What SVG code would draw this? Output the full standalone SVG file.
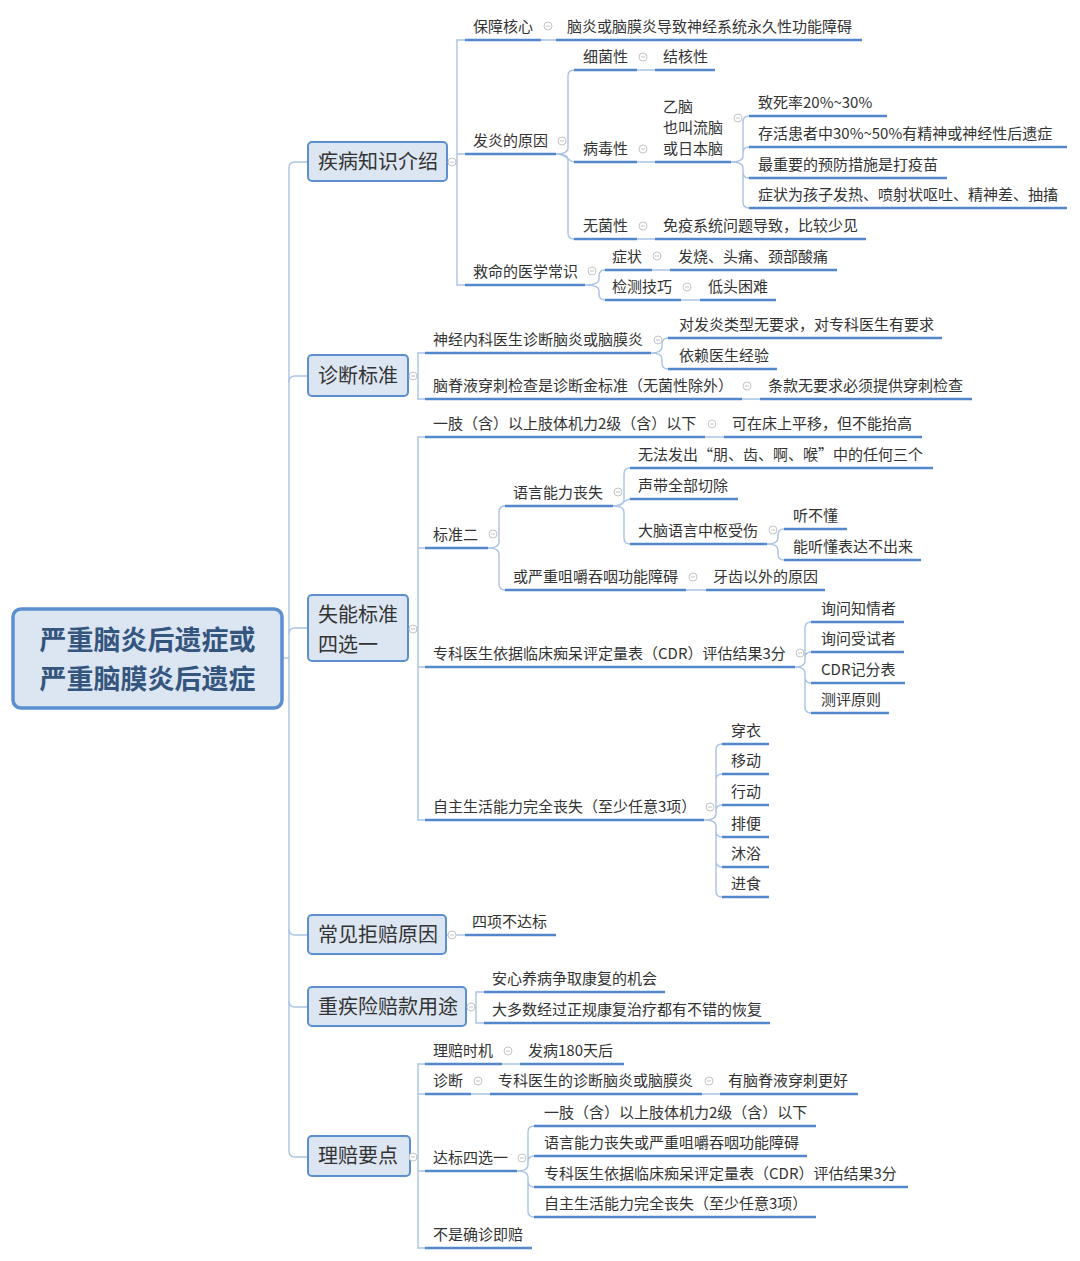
<svg xmlns="http://www.w3.org/2000/svg" xmlns:xlink="http://www.w3.org/1999/xlink" width="1080" height="1261" viewBox="0 0 1080 1261">
<style>
.t{font-family:"Noto Sans CJK SC","Microsoft YaHei",sans-serif;font-size:15px;fill:#333}
.m{font-family:"Noto Sans CJK SC","Microsoft YaHei",sans-serif;font-size:20px;fill:#333}
.r{font-family:"Noto Sans CJK SC","Microsoft YaHei",sans-serif;font-size:27px;font-weight:bold;fill:#34557e}
.u{stroke:#5387cc;stroke-width:2.5;fill:none}
.c{stroke:#a9c3e6;stroke-width:1.4;fill:none}
.box{fill:#dce6f2;stroke:#5b8fd0;stroke-width:2}
.root{fill:#dce6f2;stroke:#5b8fd0;stroke-width:3.5}
.b circle{fill:#fff;stroke:#c4c4c4;stroke-width:1}
.b line{stroke:#c4c4c4;stroke-width:1}
</style>
<defs>
<g id="btn" class="b"><circle cx="0" cy="0" r="4"/><line x1="-2" y1="0" x2="2" y2="0"/></g>
</defs>
<rect width="1080" height="1261" fill="#fff"/>

<g id="connectors">
<path class="c" d="M282,658 H289"/>
<path class="c" d="M308,162 H295 Q289,162 289,168 V1151 Q289,1157 295,1157 H308"/>
<path class="c" d="M289,382 Q289,376 295,376 H308"/>
<path class="c" d="M289,634 Q289,628 295,628 H308"/>
<path class="c" d="M289,929 Q289,935 295,935 H308"/>
<path class="c" d="M289,1001 Q289,1007 295,1007 H308"/>
<path class="c" d="M447,162 H457 M465,40 H457 V285 H465 M457,154 H465"/>
<path class="c" d="M408,376 H418 M425,353 H418 V399 H425"/>
<path class="c" d="M408,628 H418 M425,437 H418 V820 H425 M418,548 H425 M418,667 H425"/>
<path class="c" d="M446,935 H465"/>
<path class="c" d="M466,1007 H476 M484,992 H476 V1023 H484"/>
<path class="c" d="M410,1157 H418 M425,1064 H418 V1248 H425 M418,1094 H425 M418,1171 H425"/>
<path class="c" d="M541,40 H556 M637,70 H655 M637,162 H655 M637,239 H655 M652,270 H670 M681,300 H700 M742,399 H760 M705,437 H724 M686,590 H706 M502,1064 H520 M471,1094 H490 M702,1094 H720"/>
<path class="c" d="M556,154 Q568,154 568,148 V76 Q568,70 574,70 M556,154 C568,154 568,162 574,162 M556,154 Q568,154 568,160 V233 Q568,239 574,239"/>
<path class="c" d="M731,162 Q743,162 743,156 V122 Q743,116 749,116 M731,162 Q743,162 743,156 V153 Q743,147 749,147 M731,162 Q743,162 743,168 V172 Q743,178 749,178 M731,162 Q743,162 743,168 V202 Q743,208 749,208"/>
<path class="c" d="M585,285 Q599,285 599,279 V276 Q599,270 605,270 M585,285 Q599,285 599,291 V294 Q599,300 605,300"/>
<path class="c" d="M651,353 Q662,353 662,347 V344 Q662,338 668,338 M651,353 Q662,353 662,359 V363 Q662,369 668,369"/>
<path class="c" d="M488,548 Q499,548 499,542 V512 Q499,506 505,506 M488,548 Q499,548 499,554 V584 Q499,590 505,590"/>
<path class="c" d="M613,506 Q624,506 624,500 V474 Q624,468 630,468 M613,506 C624,506 624,499 630,499 M613,506 Q624,506 624,512 V538 Q624,544 630,544"/>
<path class="c" d="M767,544 Q778,544 778,538 V535 Q778,529 784,529 M767,544 Q778,544 778,550 V554 Q778,560 784,560"/>
<path class="c" d="M795,667 Q805,667 805,661 V628 Q805,622 811,622 M795,667 Q805,667 805,661 V658 Q805,652 811,652 M795,667 Q805,667 805,673 V677 Q805,683 811,683 M795,667 Q805,667 805,673 V707 Q805,713 811,713"/>
<path class="c" d="M704,820 Q716,820 716,814 V750 Q716,744 722,744 M704,820 Q716,820 716,814 V780 Q716,774 722,774 M704,820 Q716,820 716,814 V811 Q716,805 722,805 M704,820 Q716,820 716,826 V831 Q716,837 722,837 M704,820 Q716,820 716,826 V861 Q716,867 722,867 M704,820 Q716,820 716,826 V891 Q716,897 722,897"/>
<path class="c" d="M517,1171 Q528,1171 528,1165 V1132 Q528,1126 534,1126 M517,1171 Q528,1171 528,1165 V1162 Q528,1156 534,1156 M517,1171 Q528,1171 528,1177 V1181 Q528,1187 534,1187 M517,1171 Q528,1171 528,1177 V1211 Q528,1217 534,1217"/>
</g>

<g id="root">
<rect class="root" x="13" y="609" width="269" height="99" rx="8"/>
<text class="r" text-anchor="middle"><tspan x="147.5" y="650">严重脑炎后遗症或</tspan><tspan x="147.5" y="689">严重脑膜炎后遗症</tspan></text>
</g>

<g id="m1"><rect class="box" x="308" y="142" width="139" height="39" rx="4"/><text class="m" x="318" y="169">疾病知识介绍</text></g>
<g id="m2"><rect class="box" x="308" y="355" width="100" height="41" rx="4"/><text class="m" x="318" y="383">诊断标准</text></g>
<g id="m3"><rect class="box" x="308" y="595" width="100" height="66" rx="4"/><text class="m"><tspan x="318" y="622">失能标准</tspan><tspan x="318" y="651.5">四选一</tspan></text></g>
<g id="m4"><rect class="box" x="308" y="915" width="138" height="39" rx="4"/><text class="m" x="318" y="942">常见拒赔原因</text></g>
<g id="m5"><rect class="box" x="308" y="987" width="158" height="39" rx="4"/><text class="m" x="318" y="1014">重疾险赔款用途</text></g>
<g id="m6"><rect class="box" x="308" y="1136" width="102" height="40" rx="4"/><text class="m" x="318" y="1163">理赔要点</text></g>

<g id="n-bzhx"><line class="u" x1="465" y1="40" x2="541" y2="40"/><text class="t" x="473" y="32">保障核心</text></g>
<g id="n-bzhx-1"><line class="u" x1="556" y1="40" x2="862" y2="40"/><text class="t" x="567" y="32">脑炎或脑膜炎导致神经系统永久性功能障碍</text></g>
<g id="n-fyyy"><line class="u" x1="465" y1="154" x2="556" y2="154"/><text class="t" x="473" y="146">发炎的原因</text></g>
<g id="n-xjx"><line class="u" x1="574" y1="70" x2="637" y2="70"/><text class="t" x="583" y="62">细菌性</text></g>
<g id="n-jhx"><line class="u" x1="655" y1="70" x2="715" y2="70"/><text class="t" x="663" y="62">结核性</text></g>
<g id="n-bdx"><line class="u" x1="574" y1="162" x2="637" y2="162"/><text class="t" x="583" y="154">病毒性</text></g>
<g id="n-yn"><line class="u" x1="655" y1="162" x2="731" y2="162"/><text class="t"><tspan x="663" y="112">乙脑</tspan><tspan x="663" y="133">也叫流脑</tspan><tspan x="663" y="154">或日本脑</tspan></text></g>
<g id="n-yn-1"><line class="u" x1="749" y1="116" x2="887" y2="116"/><text class="t" x="758" y="108">致死率20%~30%</text></g>
<g id="n-yn-2"><line class="u" x1="749" y1="147" x2="1067" y2="147"/><text class="t" x="758" y="139">存活患者中30%~50%有精神或神经性后遗症</text></g>
<g id="n-yn-3"><line class="u" x1="749" y1="178" x2="947" y2="178"/><text class="t" x="758" y="170">最重要的预防措施是打疫苗</text></g>
<g id="n-yn-4"><line class="u" x1="749" y1="208" x2="1067" y2="208"/><text class="t" x="758" y="200">症状为孩子发热、喷射状呕吐、精神差、抽搐</text></g>
<g id="n-wjx"><line class="u" x1="574" y1="239" x2="637" y2="239"/><text class="t" x="583" y="231">无菌性</text></g>
<g id="n-wjx-1"><line class="u" x1="655" y1="239" x2="866" y2="239"/><text class="t" x="663" y="231">免疫系统问题导致，比较少见</text></g>
<g id="n-jm"><line class="u" x1="465" y1="285" x2="585" y2="285"/><text class="t" x="473" y="277">救命的医学常识</text></g>
<g id="n-zz"><line class="u" x1="605" y1="270" x2="652" y2="270"/><text class="t" x="612" y="262">症状</text></g>
<g id="n-zz-1"><line class="u" x1="670" y1="270" x2="837" y2="270"/><text class="t" x="678" y="262">发烧、头痛、颈部酸痛</text></g>
<g id="n-jc"><line class="u" x1="605" y1="300" x2="681" y2="300"/><text class="t" x="612" y="292">检测技巧</text></g>
<g id="n-jc-1"><line class="u" x1="700" y1="300" x2="776" y2="300"/><text class="t" x="708" y="292">低头困难</text></g>

<g id="n-sjnk"><line class="u" x1="425" y1="353" x2="651" y2="353"/><text class="t" x="433" y="345">神经内科医生诊断脑炎或脑膜炎</text></g>
<g id="n-sjnk-1"><line class="u" x1="668" y1="338" x2="942" y2="338"/><text class="t" x="679" y="330">对发炎类型无要求，对专科医生有要求</text></g>
<g id="n-sjnk-2"><line class="u" x1="668" y1="369" x2="777" y2="369"/><text class="t" x="679" y="361">依赖医生经验</text></g>
<g id="n-njy"><line class="u" x1="425" y1="399" x2="742" y2="399"/><text class="t" x="433" y="391">脑脊液穿刺检查是诊断金标准（无菌性除外）</text></g>
<g id="n-njy-1"><line class="u" x1="760" y1="399" x2="972" y2="399"/><text class="t" x="768" y="391">条款无要求必须提供穿刺检查</text></g>

<g id="n-yz"><line class="u" x1="425" y1="437" x2="705" y2="437"/><text class="t" x="433" y="429">一肢（含）以上肢体机力2级（含）以下</text></g>
<g id="n-yz-1"><line class="u" x1="724" y1="437" x2="922" y2="437"/><text class="t" x="732" y="429">可在床上平移，但不能抬高</text></g>
<g id="n-bze"><line class="u" x1="425" y1="548" x2="488" y2="548"/><text class="t" x="433" y="540">标准二</text></g>
<g id="n-yy"><line class="u" x1="505" y1="506" x2="613" y2="506"/><text class="t" x="513" y="498">语言能力丧失</text></g>
<g id="n-yy-1"><line class="u" x1="630" y1="468" x2="933" y2="468"/><text class="t" x="638" y="460">无法发出“朋、齿、啊、喉”中的任何三个</text></g>
<g id="n-yy-2"><line class="u" x1="630" y1="499" x2="738" y2="499"/><text class="t" x="638" y="491">声带全部切除</text></g>
<g id="n-yy-3"><line class="u" x1="630" y1="544" x2="767" y2="544"/><text class="t" x="638" y="536">大脑语言中枢受伤</text></g>
<g id="n-yy-3a"><line class="u" x1="784" y1="529" x2="847" y2="529"/><text class="t" x="793" y="521">听不懂</text></g>
<g id="n-yy-3b"><line class="u" x1="784" y1="560" x2="921" y2="560"/><text class="t" x="793" y="552">能听懂表达不出来</text></g>
<g id="n-jj"><line class="u" x1="505" y1="590" x2="686" y2="590"/><text class="t" x="513" y="582">或严重咀嚼吞咽功能障碍</text></g>
<g id="n-jj-1"><line class="u" x1="706" y1="590" x2="825" y2="590"/><text class="t" x="713" y="582">牙齿以外的原因</text></g>
<g id="n-cdr"><line class="u" x1="425" y1="667" x2="795" y2="667"/><text class="t" x="433" y="659">专科医生依据临床痴呆评定量表（CDR）评估结果3分</text></g>
<g id="n-cdr-1"><line class="u" x1="811" y1="622" x2="904" y2="622"/><text class="t" x="821" y="614">询问知情者</text></g>
<g id="n-cdr-2"><line class="u" x1="811" y1="652" x2="904" y2="652"/><text class="t" x="821" y="644">询问受试者</text></g>
<g id="n-cdr-3"><line class="u" x1="811" y1="683" x2="905" y2="683"/><text class="t" x="821" y="675">CDR记分表</text></g>
<g id="n-cdr-4"><line class="u" x1="811" y1="713" x2="889" y2="713"/><text class="t" x="821" y="705">测评原则</text></g>
<g id="n-zzsh"><line class="u" x1="425" y1="820" x2="704" y2="820"/><text class="t" x="433" y="812">自主生活能力完全丧失（至少任意3项）</text></g>
<g id="n-zzsh-1"><line class="u" x1="722" y1="744" x2="769" y2="744"/><text class="t" x="731" y="736">穿衣</text></g>
<g id="n-zzsh-2"><line class="u" x1="722" y1="774" x2="769" y2="774"/><text class="t" x="731" y="766">移动</text></g>
<g id="n-zzsh-3"><line class="u" x1="722" y1="805" x2="769" y2="805"/><text class="t" x="731" y="797">行动</text></g>
<g id="n-zzsh-4"><line class="u" x1="722" y1="837" x2="769" y2="837"/><text class="t" x="731" y="829">排便</text></g>
<g id="n-zzsh-5"><line class="u" x1="722" y1="867" x2="769" y2="867"/><text class="t" x="731" y="859">沐浴</text></g>
<g id="n-zzsh-6"><line class="u" x1="722" y1="897" x2="769" y2="897"/><text class="t" x="731" y="889">进食</text></g>

<g id="n-sxbdb"><line class="u" x1="465" y1="935" x2="556" y2="935"/><text class="t" x="472" y="927">四项不达标</text></g>

<g id="n-ax"><line class="u" x1="484" y1="992" x2="665" y2="992"/><text class="t" x="492" y="984">安心养病争取康复的机会</text></g>
<g id="n-dds"><line class="u" x1="484" y1="1023" x2="770" y2="1023"/><text class="t" x="492" y="1015">大多数经过正规康复治疗都有不错的恢复</text></g>

<g id="n-lpsj"><line class="u" x1="425" y1="1064" x2="502" y2="1064"/><text class="t" x="433" y="1056">理赔时机</text></g>
<g id="n-lpsj-1"><line class="u" x1="520" y1="1064" x2="624" y2="1064"/><text class="t" x="528" y="1056">发病180天后</text></g>
<g id="n-zd"><line class="u" x1="425" y1="1094" x2="471" y2="1094"/><text class="t" x="433" y="1086">诊断</text></g>
<g id="n-zd-1"><line class="u" x1="490" y1="1094" x2="702" y2="1094"/><text class="t" x="498" y="1086">专科医生的诊断脑炎或脑膜炎</text></g>
<g id="n-zd-2"><line class="u" x1="720" y1="1094" x2="858" y2="1094"/><text class="t" x="728" y="1086">有脑脊液穿刺更好</text></g>
<g id="n-db"><line class="u" x1="425" y1="1171" x2="517" y2="1171"/><text class="t" x="433" y="1163">达标四选一</text></g>
<g id="n-db-1"><line class="u" x1="534" y1="1126" x2="816" y2="1126"/><text class="t" x="544" y="1118">一肢（含）以上肢体机力2级（含）以下</text></g>
<g id="n-db-2"><line class="u" x1="534" y1="1156" x2="807" y2="1156"/><text class="t" x="544" y="1148">语言能力丧失或严重咀嚼吞咽功能障碍</text></g>
<g id="n-db-3"><line class="u" x1="534" y1="1187" x2="908" y2="1187"/><text class="t" x="544" y="1179">专科医生依据临床痴呆评定量表（CDR）评估结果3分</text></g>
<g id="n-db-4"><line class="u" x1="534" y1="1217" x2="816" y2="1217"/><text class="t" x="544" y="1209">自主生活能力完全丧失（至少任意3项）</text></g>
<g id="n-bsqz"><line class="u" x1="425" y1="1248" x2="532" y2="1248"/><text class="t" x="433" y="1240">不是确诊即赔</text></g>

<g id="buttons">
<use href="#btn" x="452" y="162"/>
<use href="#btn" x="548" y="26"/>
<use href="#btn" x="562" y="141"/>
<use href="#btn" x="643" y="57"/>
<use href="#btn" x="643" y="149"/>
<use href="#btn" x="738" y="118"/>
<use href="#btn" x="643" y="226"/>
<use href="#btn" x="592" y="271"/>
<use href="#btn" x="657" y="256"/>
<use href="#btn" x="687" y="287"/>
<use href="#btn" x="413" y="376"/>
<use href="#btn" x="658" y="340"/>
<use href="#btn" x="747" y="386"/>
<use href="#btn" x="413" y="629"/>
<use href="#btn" x="712" y="424"/>
<use href="#btn" x="493" y="534"/>
<use href="#btn" x="618" y="492"/>
<use href="#btn" x="773" y="530"/>
<use href="#btn" x="693" y="577"/>
<use href="#btn" x="800" y="653"/>
<use href="#btn" x="710" y="807"/>
<use href="#btn" x="452" y="935"/>
<use href="#btn" x="471" y="1007"/>
<use href="#btn" x="413" y="1157"/>
<use href="#btn" x="508" y="1051"/>
<use href="#btn" x="478" y="1081"/>
<use href="#btn" x="709" y="1081"/>
<use href="#btn" x="522" y="1158"/>
</g>
</svg>
